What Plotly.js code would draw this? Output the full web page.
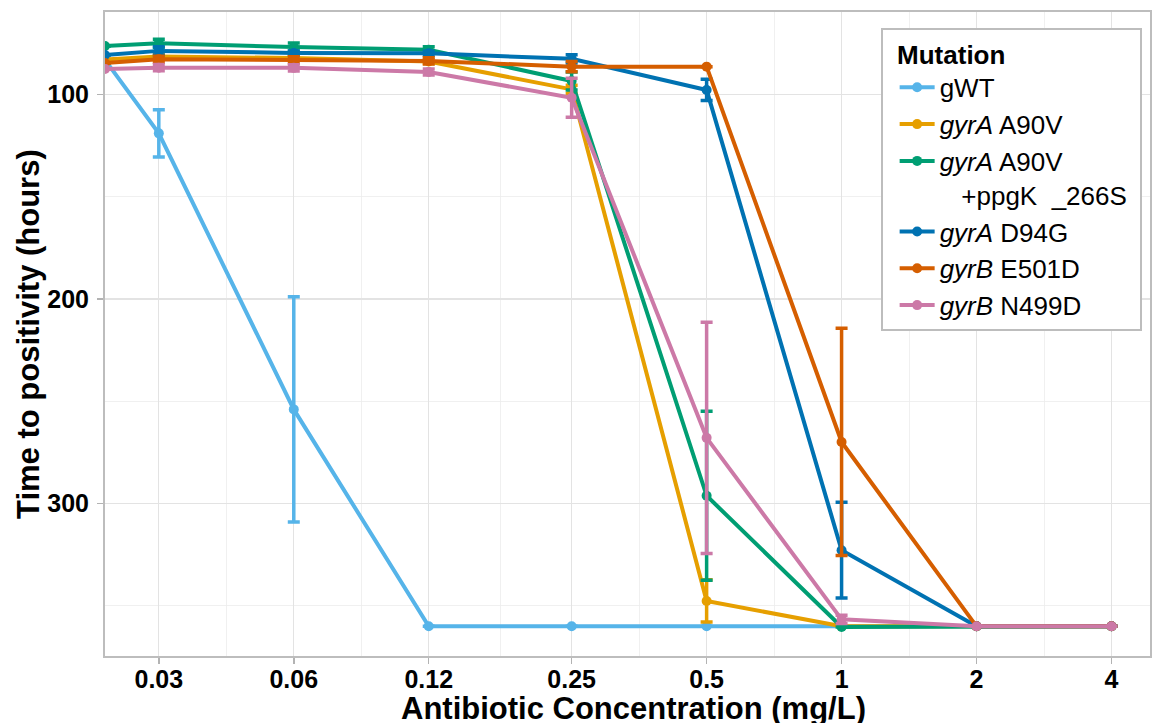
<!DOCTYPE html>
<html>
<head>
<meta charset="utf-8">
<script src="https://cdn.plot.ly/plotly-3.0.1.min.js"></script>
<style>html,body{margin:0;padding:0;background:#fff;}#chart{width:1153px;height:723px;}</style>
</head>
<body>
<div id="chart"></div>
<script>
// Antibiotic concentrations (mg/L); 0 = no-drug control (drawn at the left panel edge, like ggplot's -Inf on a log scale)
const concentrations = [0, 0.03, 0.06, 0.12, 0.25, 0.5, 1, 2, 4];
const tickLabels = ["0.03", "0.06", "0.12", "0.25", "0.5", "1", "2", "4"];

const seriesNames = ["gWT", "<i>gyrA</i> A90V", "<i>gyrA</i> A90V<br>\u00a0\u00a0\u00a0+ppgK\u00a0\u00a0_266S\u00a0", "<i>gyrA</i> D94G", "<i>gyrB</i> E501D", "<i>gyrB</i> N499D"];

const gWT        = [83.2, 119.1, 254.0, 360, 360, 360, 360, 360, 360];
const gWT_err    = [0, 11.5, 55, 0, 0, 0, 0, 0, 0];
const a90v       = [83.0, 81.6, 82.3, 84.0, 97.6, 347.6, 360, 360, 360];
const a90v_err   = [0, 1.5, 1, 1, 2, 10.3, 0, 0, 0];
const a90vPpgk   = [76.4, 75.1, 76.9, 78.3, 93.5, 296.2, 360.3, 360, 360];
const a90vPpgk_err = [0, 2, 2, 1.5, 4.4, 41.3, 0, 0, 0];
const d94g       = [80.8, 78.8, 79.8, 80.0, 82.7, 97.9, 322.8, 360, 360];
const d94g_err   = [0, 2, 1, 1, 2, 5.2, 23.4, 0, 0];
const e501d      = [84.7, 82.9, 83.2, 83.7, 86.5, 86.5, 269.9, 360, 360];
const e501d_err  = [0, 1.5, 1.5, 1.5, 2.5, 0, 55.5, 0, 0];
const n499d      = [87.6, 87.0, 87.1, 89.1, 101.7, 267.9, 356.6, 360, 360];
const n499d_err  = [0, 1.5, 1.5, 1.5, 9.5, 56.5, 2, 0, 0];

const xTitle = "Antibiotic Concentration (mg/L)";
const yTitle = "Time to positivity (hours)";
const legendTitle = "Mutation";

const colors = ["#56B4E9", "#E69F00", "#009E73", "#0072B2", "#D55E00", "#CC79A7"];
const allValues = [gWT, a90v, a90vPpgk, d94g, e501d, n499d];
const allErrors = [gWT_err, a90v_err, a90vPpgk_err, d94g_err, e501d_err, n499d_err];

const X_RANGE = [-1.6429, 0.6879]; // log10 units
const X_EDGE = Math.pow(10, X_RANGE[0]);
const xPlot = concentrations.map(c => c > 0 ? c : X_EDGE);

const traces = allValues.map((vals, i) => ({
  type: "scatter",
  mode: "lines+markers",
  name: seriesNames[i],
  x: xPlot,
  y: vals,
  line: {color: colors[i], width: 4},
  marker: {color: colors[i], size: 10},
  error_y: {type: "data", array: allErrors[i], visible: true, color: colors[i], thickness: 3.5, width: 6},
  cliponaxis: true
}));

const tickVals = tickLabels.map(Number);
const minorX = [];
for (let i = 0; i < tickVals.length - 1; i++) minorX.push(Math.sqrt(tickVals[i] * tickVals[i + 1]));

const FONT = "Liberation Sans, Arial, Helvetica, sans-serif";

const layout = {
  width: 1153,
  height: 723,
  margin: {l: 105, r: 3, t: 12, b: 67, pad: 0},
  paper_bgcolor: "#ffffff",
  plot_bgcolor: "#ffffff",
  font: {family: FONT, color: "#000000"},
  showlegend: true,
  xaxis: {
    type: "log",
    range: X_RANGE,
    tickmode: "array",
    tickvals: tickVals,
    ticktext: tickLabels,
    tickfont: {family: FONT, size: 25, color: "#000", weight: "bold"},
    ticks: "outside",
    ticklen: 6,
    tickwidth: 1.5,
    tickcolor: "#b3b3b3",
    ticklabelstandoff: -6,
    showgrid: true,
    gridcolor: "#e3e3e3",
    gridwidth: 1.3,
    minor: {tickmode: "array", tickvals: minorX, showgrid: true, gridcolor: "#ececec", gridwidth: 0.8, ticks: ""},
    showline: true,
    linecolor: "#bdbdbd",
    linewidth: 2,
    mirror: true,
    zeroline: false
  },
  yaxis: {
    range: [374.5, 59.8],
    tickmode: "array",
    tickvals: [100, 200, 300],
    ticktext: ["100", "200", "300"],
    tickfont: {family: FONT, size: 25, color: "#000", weight: "bold"},
    ticks: "outside",
    ticklen: 6,
    tickwidth: 1.5,
    tickcolor: "#b3b3b3",
    ticklabelstandoff: 3,
    showgrid: true,
    gridcolor: "#e3e3e3",
    gridwidth: 1.3,
    minor: {tickmode: "array", tickvals: [150, 250, 350], showgrid: true, gridcolor: "#ececec", gridwidth: 0.8, ticks: ""},
    showline: true,
    linecolor: "#bdbdbd",
    linewidth: 2,
    mirror: true,
    zeroline: false
  },
  annotations: [
    {text: "<b>" + xTitle + "</b>", xref: "paper", yref: "paper", x: 0.506, y: -0.0515, xanchor: "center", yanchor: "top",
     showarrow: false, font: {family: FONT, size: 31, color: "#000"}},
    {text: "<b>" + yTitle + "</b>", xref: "paper", yref: "paper", x: -0.0737, y: 0.5, xanchor: "center", yanchor: "middle",
     textangle: -90, showarrow: false, font: {family: FONT, size: 31, color: "#000"}}
  ],
  legend: {
    x: 0.992,
    y: 0.975,
    xanchor: "right",
    yanchor: "top",
    bgcolor: "#ffffff",
    bordercolor: "#bdbdbd",
    borderwidth: 2,
    font: {family: FONT, size: 26, color: "#000"},
    title: {text: "<b>\u00a0\u2009" + legendTitle + "</b>", font: {family: FONT, size: 26, color: "#000"}},
    valign: "top",
    itemwidth: 35,
    indentation: 12,
    tracegroupgap: 0
  }
};

Plotly.newPlot("chart", traces, layout, {displayModeBar: false, staticPlot: true});
</script>
</body>
</html>
